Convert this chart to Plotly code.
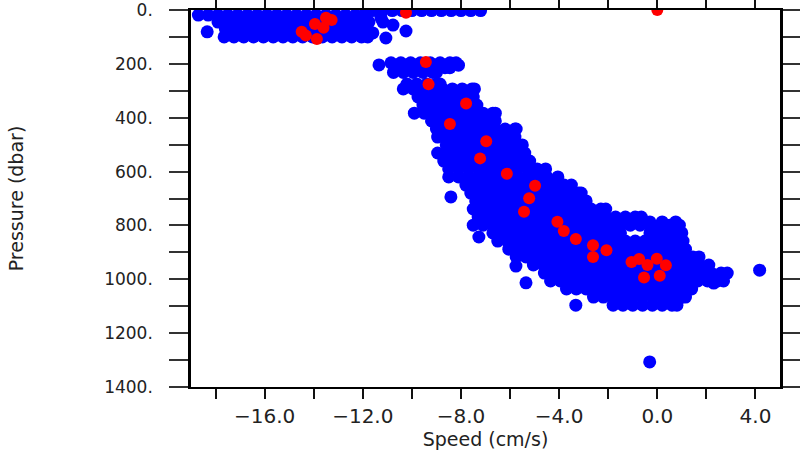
import plotly.graph_objects as go

# ---- Blue cloud: pressure rows (dbar) and the speeds (cm/s) read in each row ----
row_pressure = [2, 19, 45, 71, 100,
                196, 214, 232,
                275, 293,
                323, 353, 383, 412, 442, 472, 501, 531, 561, 590, 620, 650, 680, 709,
                739, 769, 799, 828, 858, 888, 917, 947, 977, 1006, 1036, 1066, 1096]
row_speeds = [
    [-11.6, -11.2, -10.8, -10.4, -10.0, -9.6, -9.2, -8.8, -8.4, -8.0, -7.6, -7.2],
    [-18.7, -18.3, -17.9, -17.5, -17.1, -16.7, -16.3, -15.9, -15.5, -15.1, -14.7, -14.3, -13.9, -13.5, -13.1, -12.7, -12.3, -11.95],
    [-17.9, -17.5, -17.1, -16.7, -16.3, -15.9, -15.5, -15.1, -14.7, -14.3, -13.9, -13.5, -13.1, -12.7, -12.3, -11.9, -11.75],
    [-17.6, -17.2, -16.8, -16.4, -16.0, -15.6, -15.2, -14.8, -14.4, -14.0, -13.6, -13.2, -12.8, -12.4, -12.0, -11.85],
    [-17.65, -17.25, -16.85, -16.45, -16.05, -15.65, -15.25, -14.85, -14.45, -14.05, -13.65, -13.25, -12.85, -12.45, -12.05, -11.8],
    [-10.85, -10.45, -10.05, -9.65, -9.25, -8.85, -8.45, -8.2],
    [-10.65, -10.25, -9.85, -9.45, -9.05, -8.65, -8.45],
    [-10.75, -10.35, -9.95, -9.55, -9.15, -9.0],
    [-10.2, -9.8, -9.4, -9.0, -8.85],
    [-10.35, -9.95, -9.55, -9.15, -8.75, -8.35, -7.95, -7.55, -7.45],
    [-9.75, -9.35, -8.95, -8.55, -8.15, -7.75, -7.5],
    [-9.55, -9.15, -8.75, -8.35, -7.95, -7.55, -7.35],
    [-9.9, -9.5, -9.1, -8.7, -8.3, -7.9, -7.5, -7.1, -6.7, -6.6],
    [-9.2, -8.8, -8.4, -8.0, -7.6, -7.2, -6.8, -6.6],
    [-9.0, -8.6, -8.2, -7.8, -7.4, -7.0, -6.6, -6.2, -5.8, -5.75],
    [-8.95, -8.55, -8.15, -7.75, -7.35, -6.95, -6.55, -6.15, -5.8],
    [-8.6, -8.2, -7.8, -7.4, -7.0, -6.6, -6.2, -5.8, -5.5],
    [-8.95, -8.55, -8.15, -7.75, -7.35, -6.95, -6.55, -6.15, -5.75, -5.4],
    [-8.7, -8.3, -7.9, -7.5, -7.1, -6.7, -6.3, -5.9, -5.5, -5.2],
    [-8.5, -8.1, -7.7, -7.3, -6.9, -6.5, -6.1, -5.7, -5.3, -4.9, -4.55],
    [-8.5, -8.1, -7.7, -7.3, -6.9, -6.5, -6.1, -5.7, -5.3, -4.9, -4.5, -4.05],
    [-7.8, -7.4, -7.0, -6.6, -6.2, -5.8, -5.4, -5.0, -4.6, -4.2, -3.8, -3.5],
    [-7.6, -7.2, -6.8, -6.4, -6.0, -5.6, -5.2, -4.8, -4.4, -4.0, -3.6, -3.2, -3.1],
    [-7.4, -7.0, -6.6, -6.2, -5.8, -5.4, -5.0, -4.6, -4.2, -3.8, -3.4, -3.0, -2.9],
    [-7.5, -7.1, -6.7, -6.3, -5.9, -5.5, -5.1, -4.7, -4.3, -3.9, -3.5, -3.1, -2.7, -2.3, -2.1],
    [-7.3, -6.9, -6.5, -6.1, -5.7, -5.3, -4.9, -4.5, -4.1, -3.7, -3.3, -2.9, -2.5, -2.1, -1.7, -1.3, -0.9, -0.65],
    [-7.5, -7.1, -6.7, -6.3, -5.9, -5.5, -5.1, -4.7, -4.3, -3.9, -3.5, -3.1, -2.7, -2.3, -1.9, -1.5, -1.1, -0.7, -0.3, 0.1, 0.5, 0.9],
    [-6.7, -6.3, -5.9, -5.5, -5.1, -4.7, -4.3, -3.9, -3.5, -3.1, -2.7, -2.3, -1.9, -1.5, -0.3, 0.1, 0.5, 0.9, 1.0],
    [-6.5, -6.1, -5.7, -5.3, -4.9, -4.5, -4.1, -3.7, -3.3, -2.9, -2.5, -2.1, -1.7, -1.3, -0.9, -0.5, -0.1, 0.3, 0.7, 1.05],
    [-6.05, -5.65, -5.25, -4.85, -4.45, -4.05, -3.65, -3.25, -2.85, -2.45, -2.05, -1.65, -1.25, -0.85, -0.45, -0.05, 0.35, 0.75, 1.15],
    [-5.75, -5.35, -4.95, -4.55, -4.15, -3.75, -3.35, -2.95, -2.55, -2.15, -1.75, -1.35, -0.95, -0.55, -0.15, 0.25, 0.65, 1.05, 1.45, 1.7],
    [-5.05, -4.65, -4.25, -3.85, -3.45, -3.05, -2.65, -2.25, -1.85, -1.45, -1.05, -0.65, -0.25, 0.15, 0.55, 0.95, 1.35, 1.75, 2.1],
    [-4.6, -4.2, -3.8, -3.4, -3.0, -2.6, -2.2, -1.8, -1.4, -1.0, -0.6, -0.2, 0.2, 0.6, 1.0, 1.4, 1.8, 2.2, 2.6, 2.85],
    [-4.35, -3.95, -3.55, -3.15, -2.75, -2.35, -1.95, -1.55, -1.15, -0.75, -0.35, 0.05, 0.45, 0.85, 1.25, 1.65, 2.05, 2.45, 2.7],
    [-3.7, -3.3, -2.9, -2.5, -2.1, -1.7, -1.3, -0.9, -0.5, -0.1, 0.3, 0.7, 1.1, 1.4],
    [-2.6, -2.2, -1.8, -1.4, -1.0, -0.6, -0.2, 0.2, 0.6, 1.0, 1.15],
    [-1.8, -1.4, -1.0, -0.6, -0.2, 0.2, 0.6, 0.8],
]

# ---- Blue scattered / edge points ----
extra_speed = [-18.34, -11.18, -10.77, -10.24, -11.06, -11.59, -11.26,
               -11.34, -8.1,
               -8.41, -7.27, -5.76, -5.35, -3.32, 4.17, -0.31,
               0.2, 0.75, -0.3, 2.3]
extra_pressure = [81, 45, 56, 78, 104, 85, 30,
                  204, 205,
                  694, 843, 951, 1013, 1096, 966, 1307,
                  787, 787, 787, 1014]

# ---- Red points ----
red_speed = [-13.50, -13.27, -13.95, -13.60, -14.49, -14.32, -13.87, -10.24, 0.0,
             -9.43, -9.32, -7.79, -8.45, -6.97, -7.22, -6.13, -4.98, -5.22, -5.43,
             -4.07, -3.81, -3.32, -2.62, -2.07, -2.62, -1.05, -0.74, -0.02, -0.40,
             0.35, -0.54, 0.10]
red_pressure = [29, 37, 52, 66, 81, 95, 108, 10, 0,
                193, 276, 347, 423, 487, 551, 608, 653, 699, 749,
                786, 821, 850, 874, 892, 917, 936, 925, 924, 947,
                948, 993, 987]

# ---- Axis ticks ----
x_tickvals = [-18, -16, -14, -12, -10, -8, -6, -4, -2, 0, 2, 4]
x_ticktext = ["", "\u221216.0", "", "\u221212.0", "", "\u22128.0", "", "\u22124.0", "", "0.0", "", "4.0"]
y_tickvals = [0, 100, 200, 300, 400, 500, 600, 700, 800, 900, 1000, 1100, 1200, 1300, 1400]
y_ticktext = ["0.", "", "200.", "", "400.", "", "600.", "", "800.", "", "1000.", "", "1200.", "", "1400."]

blue_x, blue_y = [], []
for p, speeds in zip(row_pressure, row_speeds):
    for s in speeds:
        blue_x.append(s)
        blue_y.append(p)
blue_x += extra_speed
blue_y += extra_pressure

fig = go.Figure()
fig.add_trace(go.Scatter(x=blue_x, y=blue_y, mode="markers",
                         marker=dict(color="#0000ff", size=13, line=dict(width=0)),
                         showlegend=False, hoverinfo="skip"))
fig.add_trace(go.Scatter(x=red_speed, y=red_pressure, mode="markers",
                         marker=dict(color="#ff0000", size=12, line=dict(width=0)),
                         showlegend=False))

font_family = "DejaVu Sans"
fig.update_layout(
    width=800, height=450,
    margin=dict(l=191, r=20, t=10, b=63, autoexpand=False),
    paper_bgcolor="white", plot_bgcolor="white",
    font=dict(family=font_family, color="#222222"),
    xaxis=dict(
        range=[-19, 5], tickmode="array", tickvals=x_tickvals, ticktext=x_ticktext,
        ticks="outside", ticklen=10, tickwidth=2, tickcolor="#111111",
        showline=True, linecolor="black", linewidth=2, mirror="ticks",
        showgrid=False, zeroline=False,
        tickfont=dict(family=font_family, size=20, color="#222222"),
        title=dict(text="Speed (cm/s)", font=dict(family=font_family, size=19, color="#222222"), standoff=2),
    ),
    yaxis=dict(
        range=[1400, 0], tickmode="array", tickvals=y_tickvals, ticktext=y_ticktext,
        ticks="outside", ticklen=19, tickwidth=2, tickcolor="#333333",
        showline=True, linecolor="black", linewidth=2.5, mirror="ticks",
        showgrid=False, zeroline=False, ticklabelstandoff=13, ticklabeloverflow="allow",
        tickfont=dict(family=font_family, size=17, color="#222222"),
        title=dict(text="Pressure (dbar)", font=dict(family=font_family, size=19, color="#222222"), standoff=76),
    ),
)

fig.write_html("out.html", config={"displayModeBar": False},
               post_script="document.body.style.margin='0';")
